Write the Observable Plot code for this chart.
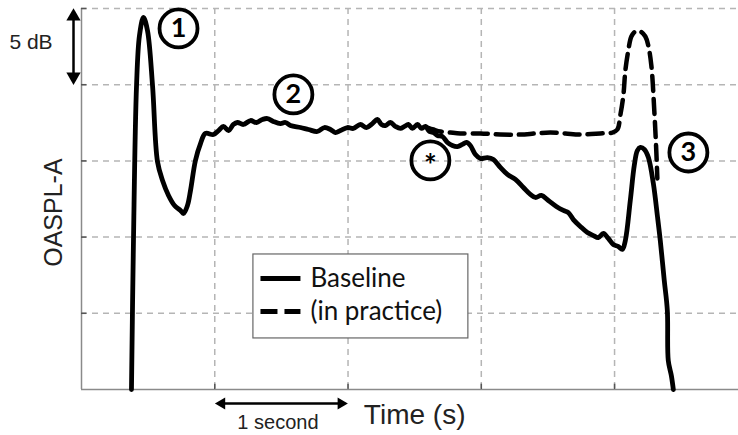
<!DOCTYPE html>
<html><head><meta charset="utf-8">
<script src="https://cdn.jsdelivr.net/npm/d3@7"></script>
<script src="https://cdn.jsdelivr.net/npm/@observablehq/plot@0.6"></script>
<style>body{margin:0;background:#fff}#chart svg{display:block}</style>
</head><body><div id="chart"></div>
<script>
// ---- data (time in s, level in dB relative to bottom of frame) ----
const baselineT = [0.375,0.390,0.413,0.435,0.465,0.495,0.533,0.570,0.608,0.653,
0.698,0.743,0.765,0.795,0.818,0.855,0.893,0.930,0.990,1.028,
1.065,1.103,1.140,1.170,1.215,1.268,1.313,1.358,1.395,1.440,
1.493,1.530,1.568,1.643,1.703,1.770,1.823,1.868,1.905,1.943,
1.995,2.040,2.093,2.138,2.183,2.220,2.251,2.281,2.318,2.356,
2.393,2.423,2.453,2.483,2.521,2.551,2.581,2.611,2.641,2.671,
2.708,2.746,2.783,2.821,2.858,2.888,2.918,2.956,2.993,3.046,
3.091,3.143,3.196,3.256,3.316,3.368,3.406,3.451,3.503,3.563,
3.616,3.653,3.691,3.743,3.796,3.841,3.878,3.916,3.953,3.991,
4.029,4.058,4.081,4.118,4.148,4.171,4.194,4.224,4.254,4.291,
4.321,4.343,4.373,4.396,4.403,4.426,4.441];
const baselineDb = [0,9.78,19.95,23.23,24.41,23.56,19.95,14.96,13.71,12.73,
12.07,11.75,11.55,12.07,13.06,15.03,16.14,16.80,16.73,16.99,
17.26,16.99,17.39,17.52,17.39,17.65,17.52,17.72,17.78,17.59,
17.45,17.52,17.32,17.19,17.06,16.93,17.19,17.06,16.86,16.99,
17.19,17.13,17.39,17.19,17.45,17.72,17.39,17.32,17.52,17.26,
17.13,17.26,17.39,17.13,17.39,17.13,17.26,16.93,16.86,16.67,
16.60,16.21,16.01,15.94,16.08,16.21,16.01,15.42,15.16,15.22,
15.09,14.57,14.11,13.78,13.25,12.80,12.60,12.73,12.40,12.01,
11.75,11.61,11.15,10.70,10.30,10.10,9.97,10.24,9.91,9.51,
9.38,9.19,9.78,12.40,14.70,15.68,15.88,15.75,15.22,13.52,
11.42,9.78,7.15,5.18,1.90,0.92,0];
const practiceT = [2.596,2.641,2.693,2.768,2.843,2.993,3.143,3.293,3.406,3.518,
3.631,3.743,3.893,3.983,4.021,4.043,4.066,4.081,4.103,4.126,
4.156,4.194,4.231,4.253,4.276,4.298,4.313,4.321];
const practiceDb = [17.19,17.06,16.93,16.86,16.80,16.80,16.73,16.73,16.80,16.86,
16.80,16.73,16.80,16.86,17.06,17.98,19.29,20.93,22.24,23.16,
23.49,23.49,23.16,22.57,21.26,18.31,15.68,13.85];
const timeTicks = [1, 2, 3, 4];
const dbTicks = [5, 10, 15, 20, 25];
const markerLabels = ["1", "2", "3"];
const markerT = [0.728, 1.590, 4.554];
const markerDb = [23.69, 19.36, 15.55];
const starT = [2.618];
const starDb = [15.03];
const legendLabels = ["Baseline", "(in practice)"];
const xLabel = "Time (s)";
const yLabel = "OASPL-A";
const dbScaleLabel = "5 dB";
const secScaleLabel = "1 second";

// ---- tables built from the arrays ----
const baseline = baselineT.map((t, i) => ({t, db: baselineDb[i]}));
const practice = practiceT.map((t, i) => ({t, db: practiceDb[i]}));
const markers = markerLabels.map((label, i) => ({label, t: markerT[i], db: markerDb[i]}));
const star = starT.map((t, i) => ({label: "*", t, db: starDb[i]}));

// annotation layout (data units)
const dbArrowX = -0.06, secArrowY = -0.92;
const dbArrow = [{x1: dbArrowX, y1: dbTicks[4], x2: dbArrowX, y2: dbTicks[3]}];
const secArrow = [{x1: timeTicks[0], y1: secArrowY, x2: timeTicks[1], y2: secArrowY}];
const legendBox = [{x1: 1.290, x2: 2.903, y1: 3.35, y2: 8.86}];
const legendRows = legendLabels.map((label, i) => ({label, y: [7.28, 5.12][i]}));

const sans = "Liberation Sans, Arial, sans-serif";
const grid = {stroke: "#b5b5b5", strokeWidth: 1.5, strokeDasharray: "6,5"};

const chart = Plot.plot({
  width: 738, height: 435,
  marginLeft: 81, marginRight: 0, marginTop: 8, marginBottom: 46,
  x: {domain: [0, 4.93], axis: null},
  y: {domain: [0, 25], axis: null},
  style: {background: "#fff", overflow: "visible"},
  marks: [
    Plot.ruleX(timeTicks, grid),
    Plot.ruleY(dbTicks, grid),
    Plot.ruleX([0], {stroke: "#8a8a8a", strokeWidth: 1.5}),
    Plot.ruleY([0], {stroke: "#8a8a8a", strokeWidth: 1.5}),
    Plot.ruleX(timeTicks, {y1: 0, y2: 0.35, stroke: "#555", strokeWidth: 1.5}),
    Plot.ruleY(dbTicks, {x1: 0, x2: 0.04, stroke: "#555", strokeWidth: 1.5}),
    // curves
    Plot.line(practice, {x: "t", y: "db", stroke: "black", strokeWidth: 4.5, strokeDasharray: "15,8",
      curve: "catmull-rom", strokeLinejoin: "round"}),
    Plot.line(baseline, {x: "t", y: "db", stroke: "black", strokeWidth: 4.8,
      curve: "catmull-rom", strokeLinejoin: "round"}),
    // circled markers
    Plot.dot(markers, {x: "t", y: "db", r: 19, stroke: "black", strokeWidth: 3.8, fill: "white"}),
    Plot.text(markers, {x: "t", y: "db", text: "label", fontSize: 27, fontWeight: "bold", fontFamily: "Lato", fill: "black"}),
    Plot.dot(star, {x: "t", y: "db", r: 19, stroke: "black", strokeWidth: 3.8, fill: "none"}),
    Plot.text(star, {x: "t", y: "db", text: "label", fontSize: 30, fontWeight: "bold", fontFamily: "Lato", fill: "black", dy: 6}),
    // legend
    Plot.rect(legendBox, {x1: "x1", x2: "x2", y1: "y1", y2: "y2", fill: "white", stroke: "#666", strokeWidth: 1.2}),
    Plot.link(legendRows.slice(0, 1), {x1: 1.343, x2: 1.643, y1: "y", y2: "y", stroke: "black", strokeWidth: 5}),
    Plot.link(legendRows.slice(1), {x1: 1.343, x2: 1.643, y1: "y", y2: "y", stroke: "black", strokeWidth: 5, strokeDasharray: "17,7"}),
    Plot.text(legendRows, {x: 1.718, y: "y", text: "label", textAnchor: "start", fontSize: 26, fontFamily: "Lato", fill: "#111"}),
    // scale arrows
    Plot.arrow(dbArrow, {x1: "x1", y1: "y1", x2: "x2", y2: "y2", headLength: 0, insetStart: 6, insetEnd: 6, stroke: "black", strokeWidth: 2.5}),
    Plot.dot(dbArrow, {x: "x1", y: "y1", symbol: "triangle", r: 5.3, fill: "black", stroke: "none", dy: 8}),
    Plot.dot(dbArrow, {x: "x2", y: "y2", symbol: "triangle", r: 5.3, fill: "black", stroke: "none", dy: -8, rotate: 180}),
    Plot.arrow(secArrow, {x1: "x1", y1: "y1", x2: "x2", y2: "y2", headLength: 0, insetStart: 6, insetEnd: 6, stroke: "black", strokeWidth: 2.5}),
    Plot.dot(secArrow, {x: "x1", y: "y1", symbol: "triangle", r: 4.4, fill: "black", stroke: "none", dx: 7, rotate: -90}),
    Plot.dot(secArrow, {x: "x2", y: "y2", symbol: "triangle", r: 4.4, fill: "black", stroke: "none", dx: -7, rotate: 90}),
    // texts
    Plot.text([dbScaleLabel], {x: -0.379, y: 22.77, text: d => d, fontSize: 21, fontFamily: sans, fill: "#222"}),
    Plot.text([secScaleLabel], {x: 1.474, y: -2.2, text: d => d, fontSize: 20, fontFamily: sans, fill: "#222"}),
    Plot.text([xLabel], {x: 2.50, y: -1.7, text: d => d, fontSize: 28, fontFamily: sans, fill: "#222"}),
    Plot.text([yLabel], {x: -0.21, y: 11.61, text: d => d, fontSize: 25, fontFamily: sans, fill: "#222", rotate: -90})
  ]
});
document.getElementById("chart").append(chart);
</script>
</body></html>
